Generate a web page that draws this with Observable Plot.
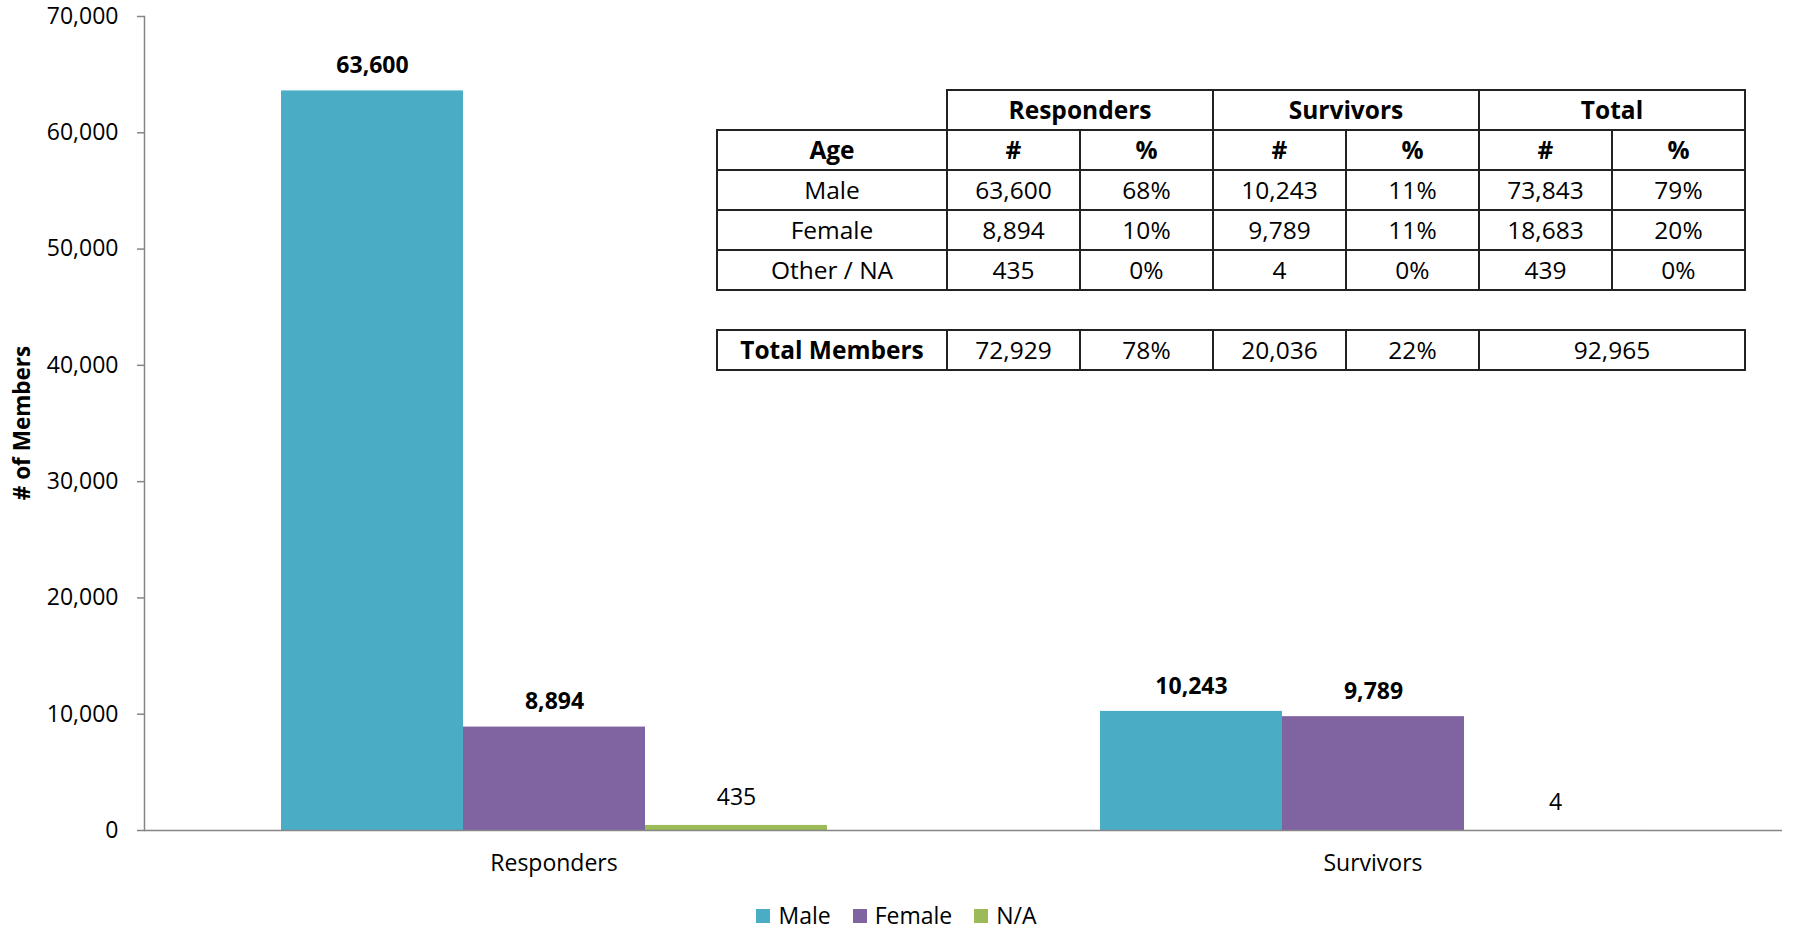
<!DOCTYPE html>
<html><head><meta charset="utf-8">
<script src="https://cdn.jsdelivr.net/npm/d3@7"></script>
<script src="https://cdn.jsdelivr.net/npm/@observablehq/plot@0.6"></script>
<style>
body{margin:0;background:#fff;font-family:"Open Sans",sans-serif;color:#000;}
#wrap{position:relative;width:1793px;height:932px;overflow:hidden;background:#fff;}
#chart{position:absolute;left:0;top:0;}
#ytitle{position:absolute;left:21px;top:423px;transform:translate(-50%,-50%) rotate(-90deg);white-space:nowrap;font-weight:bold;font-size:22.5px;}
#legend{position:absolute;left:0;top:900px;width:1793px;height:31px;display:flex;justify-content:center;}
.lg-swatches{min-height:31px !important;margin:0 !important;line-height:31px;}
.lg-swatch > svg{margin-right:8px !important;}
.lg-swatch{margin-right:22px !important;}
.lg-swatch:last-child{margin-right:0 !important;}
#tbl{position:absolute;left:716px;top:89px;border-collapse:collapse;table-layout:fixed;font-size:24.5px;font-family:"Open Sans",sans-serif;}
#tbl td{border:2px solid #222;height:36px;padding:0;text-align:center;white-space:nowrap;line-height:34px;}
#tbl tr{height:40px;}
#tbl td.blank{border:none;}
#tbl .b{font-weight:bold;}
</style></head>
<body><div id="wrap"><div id="chart"></div><div id="ytitle"></div><div id="legend"></div><table id="tbl"></table></div>
<script>
// ---- chart data ----
const groups = ["Responders", "Survivors"];
const genders = ["Male", "Female", "N/A"];
const responders = [63600, 8894, 435];
const survivors = [10243, 9789, 4];
const colors = ["#4BACC6", "#8064A2", "#9BBB59"];
const yTicks = [0, 10000, 20000, 30000, 40000, 50000, 60000, 70000];
const yTitle = "# of Members";

// ---- table data ----
const tableGroups = ["Responders", "Survivors", "Total"];
const tableSub = ["#", "%"];
const tableFirstHeader = "Age";
const rowLabels = ["Male", "Female", "Other / NA"];
const respCount = ["63,600", "8,894", "435"];
const respPct = ["68%", "10%", "0%"];
const survCount = ["10,243", "9,789", "4"];
const survPct = ["11%", "11%", "0%"];
const totCount = ["73,843", "18,683", "439"];
const totPct = ["79%", "20%", "0%"];
const totalLabel = "Total Members";
const totalRow = ["72,929", "78%", "20,036", "22%"];
const grandTotal = "92,965";

const series = [responders, survivors];
const data = groups.flatMap((g, gi) => genders.map((s, si) => ({group: g, gender: s, value: series[gi][si]})));
const fmt = d3.format(",");

const plot = Plot.plot({
  width: 1793, height: 885,
  marginLeft: 144, marginRight: 11, marginTop: 16, marginBottom: 55,
  style: {fontFamily: "Open Sans", fontSize: "23px", color: "#000", background: "#fff", overflow: "visible"},
  fx: {domain: groups, padding: 0, axis: "bottom", label: null, tickSize: 0, tickPadding: 24},
  x: {domain: genders, paddingInner: 0, paddingOuter: 0.75, axis: null},
  y: {domain: [0, 70000], axis: null},
  color: {domain: genders, range: colors},
  marks: [
    Plot.barY(data, {fx: "group", x: "gender", y: "value", fill: "gender"}),
    Plot.ruleY([0], {stroke: "#868686", strokeWidth: 1.5}),
    Plot.frame({anchor: "left", facetAnchor: "left", stroke: "#868686", strokeWidth: 1.5}),
    Plot.axisY({ticks: yTicks, tickFormat: d => fmt(d), tickSize: 7, tickPadding: 19, stroke: "#868686", strokeWidth: 1.5, label: null}),
    Plot.text(data.filter(d => d.gender !== "N/A"), {fx: "group", x: "gender", y: "value", text: d => fmt(d.value), dy: -25, fontWeight: "bold", fill: "#000"}),
    Plot.text(data.filter(d => d.gender === "N/A"), {fx: "group", x: "gender", y: "value", text: d => fmt(d.value), dy: -28, fill: "#000"})
  ]
});
document.getElementById("chart").appendChild(plot);
document.getElementById("ytitle").textContent = yTitle;

const leg = Plot.legend({color: {domain: genders, range: colors}, legend: "swatches", swatchSize: 14, className: "lg", style: {fontSize: "23px", fontFamily: "Open Sans", color: "#000"}});
document.getElementById("legend").appendChild(leg);

// ---- table ----
const tbl = document.getElementById("tbl");
const colgroup = document.createElement("colgroup");
[230, 133, 133, 133, 133, 133, 133].forEach(w => { const c = document.createElement("col"); c.style.width = w + "px"; colgroup.appendChild(c); });
tbl.appendChild(colgroup);
function row(cells) {
  const tr = document.createElement("tr");
  cells.forEach(c => {
    const td = document.createElement("td");
    td.textContent = c.t ?? "";
    if (c.span) td.colSpan = c.span;
    if (c.cls) td.className = c.cls;
    tr.appendChild(td);
  });
  tbl.appendChild(tr);
}
row([{t: "", cls: "blank"}, ...tableGroups.map(g => ({t: g, span: 2, cls: "b"}))]);
row([{t: tableFirstHeader, cls: "b"}, ...tableGroups.flatMap(() => tableSub.map(s => ({t: s, cls: "b"})))]);
rowLabels.forEach((r, i) => row([{t: r}, {t: respCount[i]}, {t: respPct[i]}, {t: survCount[i]}, {t: survPct[i]}, {t: totCount[i]}, {t: totPct[i]}]));
row([{t: "", span: 7, cls: "blank"}]);
row([{t: totalLabel, cls: "b"}, ...totalRow.map(v => ({t: v})), {t: grandTotal, span: 2}]);
</script></body></html>
